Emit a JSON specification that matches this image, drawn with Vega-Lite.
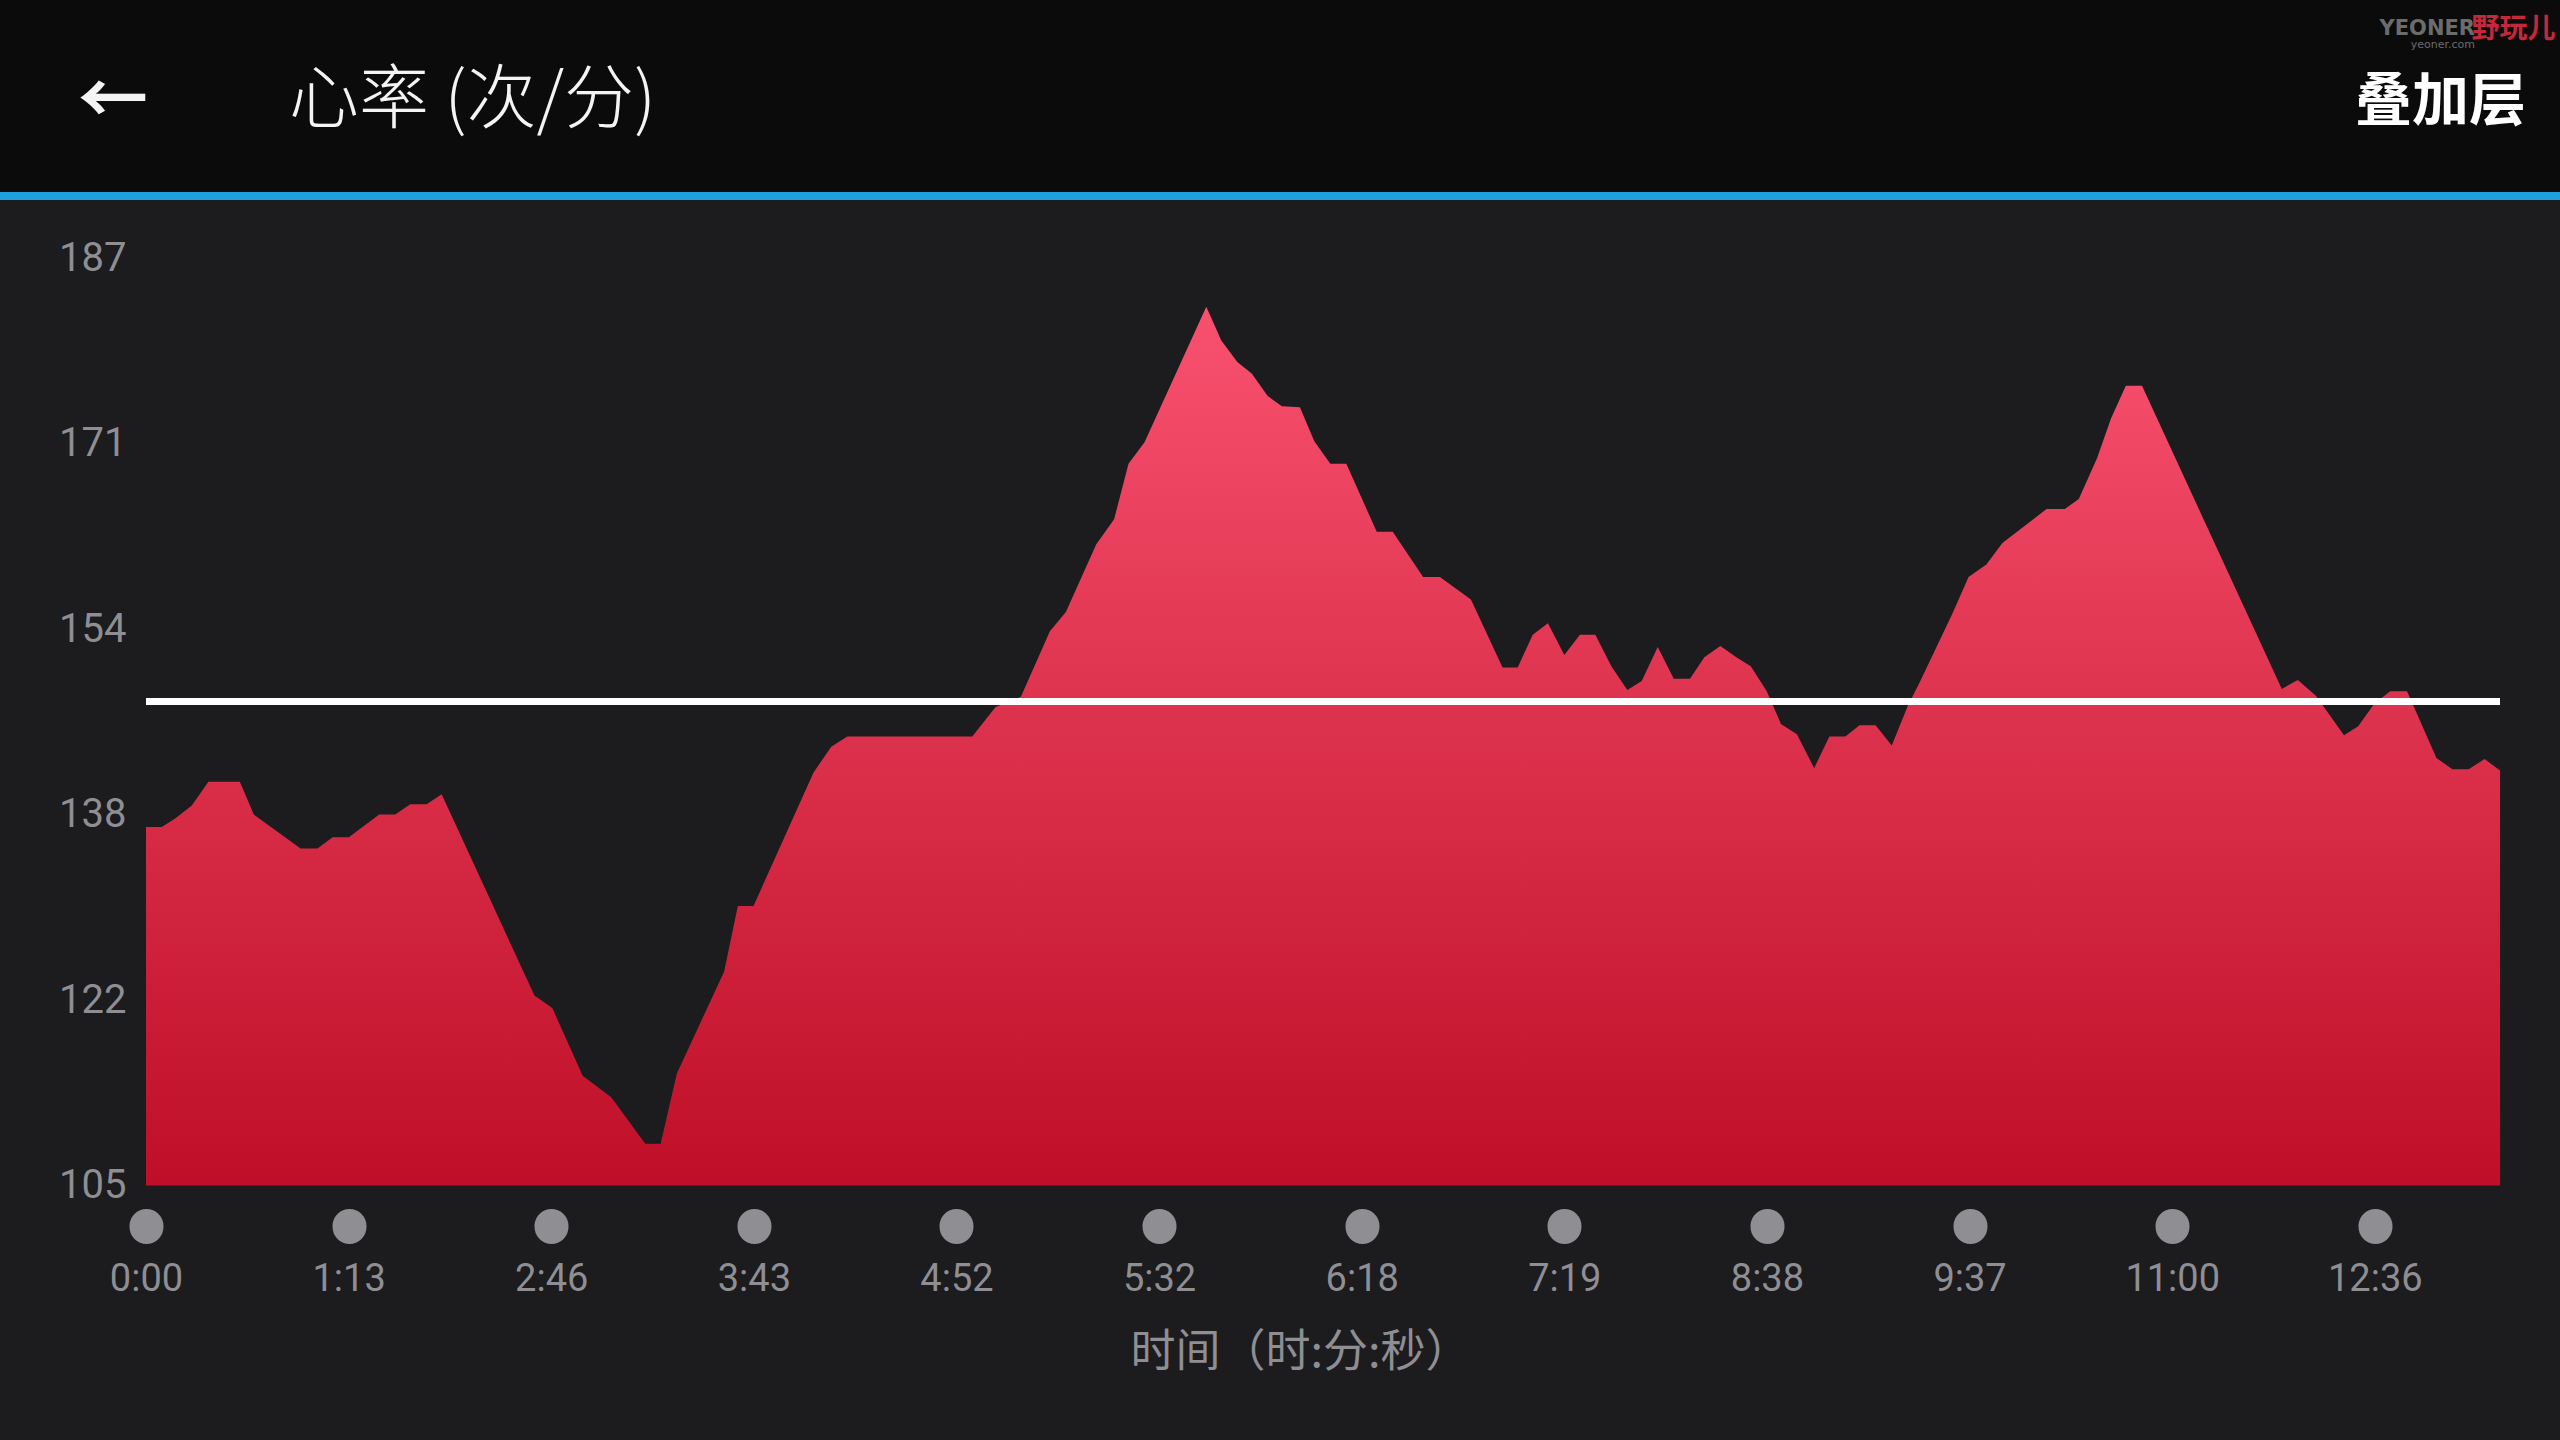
{
  "$schema": "https://vega.github.io/schema/vega-lite/v6.json",
  "usermeta": {"embedOptions": {"actions": false}},
  "background": "#1c1b1e",
  "padding": 0,
  "bounds": "flush",
  "spacing": 0,
  "config": {"view": {"stroke": null}},
  "title": {
    "text": "YEONER",
    "subtitle": "yeoner.com",
    "anchor": "end",
    "orient": "top",
    "offset": -50,
    "dx": -85,
    "font": "DejaVu Sans",
    "fontSize": 21,
    "fontWeight": "bold",
    "color": "#6c6c6c",
    "subtitleFont": "DejaVu Sans",
    "subtitleFontSize": 11,
    "subtitleColor": "#6c6c6c",
    "subtitlePadding": 0
  },
  "vconcat": [
    {
      "width": 2560,
      "height": 192,
      "view": {"fill": "#0b0b0b", "stroke": null},
      "title": {
        "text": "心率 (次/分)",
        "anchor": "start",
        "frame": "group",
        "orient": "top",
        "offset": -138,
        "dx": 289,
        "font": "Noto Sans CJK SC",
        "fontSize": 70,
        "fontWeight": 300,
        "color": "#f4f4f4"
      },
      "data": {"values": []},
      "mark": "point"
    },
    {
      "width": 2560,
      "height": 8,
      "view": {"fill": "#1e9fe0", "stroke": null},
      "title": {
        "text": "←",
        "anchor": "start",
        "frame": "group",
        "orient": "top",
        "offset": 53,
        "dx": 78,
        "font": "Noto Sans CJK SC",
        "fontSize": 70,
        "fontWeight": "bold",
        "color": "#f4f4f4"
      },
      "data": {"values": []},
      "mark": "point"
    },
    {
      "width": 2560,
      "height": 1240,
      "title": {
        "text": "叠加层",
        "anchor": "end",
        "frame": "group",
        "orient": "top",
        "offset": -117,
        "dx": -34,
        "font": "Noto Sans CJK SC",
        "fontSize": 57,
        "fontWeight": "bold",
        "color": "#ffffff"
      },
      "layer": [
        {
          "data": {
            "values": [
              {"d": 0.000, "hr": 136.9}, {"d": 0.078, "hr": 136.9}, {"d": 0.147, "hr": 137.7}, {"d": 0.226, "hr": 138.8},
              {"d": 0.308, "hr": 140.9}, {"d": 0.463, "hr": 140.9}, {"d": 0.532, "hr": 138.0}, {"d": 0.763, "hr": 135.0},
              {"d": 0.846, "hr": 135.0}, {"d": 0.921, "hr": 136.0}, {"d": 1.001, "hr": 136.0}, {"d": 1.151, "hr": 138.0},
              {"d": 1.230, "hr": 138.0}, {"d": 1.304, "hr": 138.9}, {"d": 1.385, "hr": 138.9}, {"d": 1.459, "hr": 139.8},
              {"d": 1.917, "hr": 122.0}, {"d": 2.005, "hr": 120.9}, {"d": 2.155, "hr": 114.9}, {"d": 2.296, "hr": 113.0},
              {"d": 2.464, "hr": 108.9}, {"d": 2.540, "hr": 108.9}, {"d": 2.620, "hr": 115.1}, {"d": 2.853, "hr": 124.1},
              {"d": 2.921, "hr": 129.9}, {"d": 2.998, "hr": 129.9}, {"d": 3.294, "hr": 141.7}, {"d": 3.382, "hr": 144.0},
              {"d": 3.461, "hr": 144.9}, {"d": 4.078, "hr": 144.9}, {"d": 4.193, "hr": 147.5}, {"d": 4.318, "hr": 148.4},
              {"d": 4.461, "hr": 154.2}, {"d": 4.540, "hr": 155.9}, {"d": 4.690, "hr": 161.9}, {"d": 4.778, "hr": 164.1},
              {"d": 4.849, "hr": 169.0}, {"d": 4.928, "hr": 170.9}, {"d": 5.233, "hr": 182.9}, {"d": 5.307, "hr": 179.9},
              {"d": 5.386, "hr": 178.0}, {"d": 5.457, "hr": 177.0}, {"d": 5.536, "hr": 175.0}, {"d": 5.606, "hr": 174.1},
              {"d": 5.695, "hr": 174.0}, {"d": 5.766, "hr": 171.0}, {"d": 5.845, "hr": 169.0}, {"d": 5.924, "hr": 169.0},
              {"d": 6.074, "hr": 163.0}, {"d": 6.153, "hr": 163.0}, {"d": 6.303, "hr": 159.0}, {"d": 6.386, "hr": 159.0},
              {"d": 6.539, "hr": 157.0}, {"d": 6.695, "hr": 151.0}, {"d": 6.770, "hr": 151.0}, {"d": 6.844, "hr": 153.9},
              {"d": 6.919, "hr": 154.9}, {"d": 7.000, "hr": 152.1}, {"d": 7.077, "hr": 153.9}, {"d": 7.153, "hr": 153.9},
              {"d": 7.232, "hr": 151.1}, {"d": 7.311, "hr": 149.0}, {"d": 7.382, "hr": 149.8}, {"d": 7.461, "hr": 152.8},
              {"d": 7.540, "hr": 150.0}, {"d": 7.620, "hr": 150.0}, {"d": 7.691, "hr": 151.9}, {"d": 7.770, "hr": 152.9},
              {"d": 7.849, "hr": 151.9}, {"d": 7.920, "hr": 151.1}, {"d": 7.999, "hr": 148.9}, {"d": 8.069, "hr": 146.0},
              {"d": 8.148, "hr": 145.1}, {"d": 8.233, "hr": 142.1}, {"d": 8.308, "hr": 144.9}, {"d": 8.387, "hr": 144.9},
              {"d": 8.457, "hr": 145.9}, {"d": 8.536, "hr": 145.9}, {"d": 8.616, "hr": 144.1}, {"d": 8.695, "hr": 147.6},
              {"d": 8.757, "hr": 149.8}, {"d": 8.916, "hr": 155.8}, {"d": 8.995, "hr": 159.0}, {"d": 9.083, "hr": 160.1},
              {"d": 9.162, "hr": 162.0}, {"d": 9.380, "hr": 165.0}, {"d": 9.470, "hr": 165.0}, {"d": 9.539, "hr": 165.9},
              {"d": 9.629, "hr": 169.5}, {"d": 9.698, "hr": 173.0}, {"d": 9.771, "hr": 175.9}, {"d": 9.851, "hr": 175.9},
              {"d": 10.541, "hr": 149.1}, {"d": 10.620, "hr": 149.9}, {"d": 10.709, "hr": 148.5}, {"d": 10.848, "hr": 145.0},
              {"d": 10.918, "hr": 145.8}, {"d": 10.997, "hr": 147.8}, {"d": 11.076, "hr": 148.9}, {"d": 11.159, "hr": 148.9},
              {"d": 11.304, "hr": 143.0}, {"d": 11.383, "hr": 142.0}, {"d": 11.463, "hr": 142.0}, {"d": 11.542, "hr": 142.9},
              {"d": 11.618, "hr": 141.9}
            ]
          },
          "mark": {
            "type": "area",
            "interpolate": "linear",
            "opacity": 1,
            "color": {
              "gradient": "linear",
              "x1": 0, "y1": 0, "x2": 0, "y2": 1,
              "stops": [
                {"offset": 0, "color": "#f8516f"},
                {"offset": 1, "color": "#bf0f28"}
              ]
            }
          },
          "encoding": {
            "x": {
              "field": "d",
              "type": "quantitative",
              "scale": {"domain": [-0.7206, 11.914], "nice": false, "zero": false},
              "axis": {
                "values": [0, 1, 2, 3, 4, 5, 6, 7, 8, 9, 10, 11],
                "labelExpr": "['0:00','1:13','2:46','3:43','4:52','5:32','6:18','7:19','8:38','9:37','11:00','12:36'][datum.value]",
                "domain": false,
                "grid": false,
                "ticks": true,
                "tickSize": 1,
                "tickWidth": 34,
                "tickCap": "round",
                "tickColor": "#8e8e93",
                "offset": -214.5,
                "labelPadding": 53,
                "labelBaseline": "middle",
                "labelFont": "Roboto",
                "labelFontSize": 38,
                "labelColor": "#8e8e93",
                "labelFlush": false,
                "labelOverlap": false,
                "title": "时间（时:分:秒）",
                "titleFont": "Noto Sans CJK SC",
                "titleFontSize": 45,
                "titleFontWeight": "normal",
                "titleColor": "#8e8e93",
                "titleX": 1300,
                "titleY": 127,
                "titleAlign": "center",
                "titleBaseline": "middle"
              }
            },
            "y": {
              "field": "hr",
              "type": "quantitative",
              "title": "野玩儿",
              "scale": {"domain": [82.7, 192.328], "nice": false, "zero": false},
              "axis": {
                "values": [105.2, 121.6, 138, 154.4, 170.8, 187.2],
                "labelExpr": "format(datum.value, '.0f')",
                "domain": false,
                "grid": false,
                "ticks": false,
                "tickSize": 0,
                "offset": -146,
                "labelPadding": 20,
                "labelFont": "Roboto",
                "labelFontSize": 40,
                "labelColor": "#8e8e93",
                "labelFlush": false,
                "labelOverlap": false,
                "titleAngle": 0,
                "titleAlign": "right",
                "titleBaseline": "middle",
                "titleX": 2409,
                "titleY": -171,
                "titleFont": "Noto Sans CJK SC",
                "titleFontSize": 28,
                "titleFontWeight": "bold",
                "titleColor": "#c4283c"
              }
            },
            "y2": {"datum": 105.2}
          }
        },
        {
          "data": {"values": [{"avg": 148.0}]},
          "mark": {"type": "rule", "color": "#ffffff", "strokeWidth": 7},
          "encoding": {
            "y": {"field": "avg", "type": "quantitative", "title": "野玩儿"},
            "x": {"datum": 0, "title": "时间（时:分:秒）"},
            "x2": {"datum": 11.618}
          }
        }
      ]
    }
  ]
}
